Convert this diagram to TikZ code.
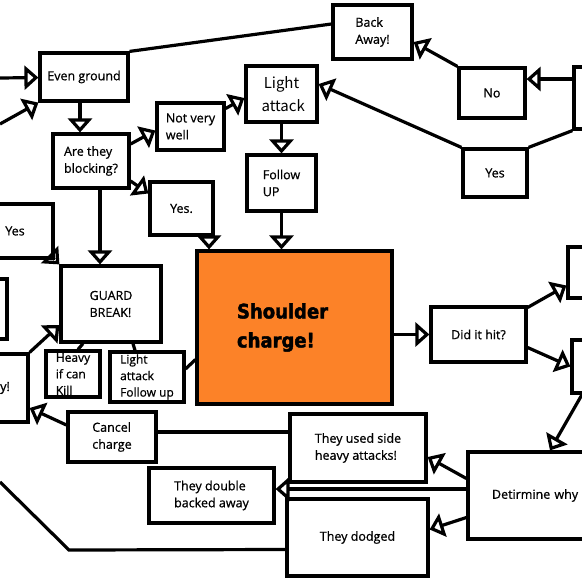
\documentclass[tikz,border=0pt]{standalone}
\usepackage{fontspec}
\setmainfont{Open Sans}[FakeBold=0.8]
\newfontfamily\gulimfont{Noto Sans CJK KR}
\newfontfamily\impactfont{DejaVu Sans Condensed Bold}[FakeBold=2]
\usetikzlibrary{arrows.meta}
\definecolor{chargeorange}{RGB}{252,130,40}
\begin{document}
\begin{tikzpicture}[x=1pt,y=-1pt,
    box/.style={draw, line width=3.2pt, align=left, inner sep=2pt,
      font=\fontsize{12.5}{17}\selectfont},
    arr/.style={line width=3.2pt, -{Triangle[open,length=14pt,width=24pt]}},
    link/.style={line width=3.2pt}]
        \useasboundingbox (0,0) rectangle (582,582);

        % boxes, top part
        \node [box, minimum width=88pt, minimum height=48pt] (even) at (84,77) {Even ground};
        \node [box, minimum width=76pt, minimum height=54pt] (block) at (91,161) {Are they\\blocking?};
        \node [box, minimum width=67pt, minimum height=47pt] (notwell) at (190.5,126.5) {Not very\\ well};
        \node [box, minimum width=71pt, minimum height=56pt, align=center,
               font=\gulimfont\fontsize{15}{23}\selectfont] (light) at (281.5,94) {Light\\ \ attack};
        \node [box, minimum width=69pt, minimum height=56pt] (follow) at (281.5,183) {Follow\\UP};
        \node [box, minimum width=79pt, minimum height=54pt] (back) at (372.5,32) {Back\\Away!};
        \node [box, minimum width=66pt, minimum height=50pt] (no) at (492,93) {No};
        \node [box, minimum width=64pt, minimum height=48pt] (yesr) at (495,173) {Yes};
        \node [box, minimum width=46pt, minimum height=62pt] (redge) at (597,98) {};

        % boxes, middle part
        \node [box, minimum width=63pt, minimum height=53pt] (yesdot) at (181.5,208.5) {Yes.};
        \node [box, minimum width=76pt, minimum height=54pt] (yesl) at (15,231) {Yes};
        \node [box, minimum width=100pt, minimum height=76pt] (guard) at (111,304) {GUARD\\BREAK!};
        \node [box, minimum width=54pt, minimum height=46pt, inner sep=1pt,
               font=\fontsize{12}{16.5}\selectfont] (heavy) at (73,374) {Heavy\\if can\\Kill};
        \node [box, minimum width=74pt, minimum height=50pt, inner sep=1pt,
               font=\fontsize{12}{16.5}\selectfont] (lfu) at (147,377) {Light\\attack\\Follow up};
        \node [box, fill=chargeorange, minimum width=195pt, minimum height=153pt, text width=115pt,
               font=\impactfont\fontsize{20}{29}\selectfont] (charge) at (294.5,327.5) {Shoulder\\charge!};
        \node [box, minimum width=46pt, minimum height=68pt] (awayl) at (5,388) {y!};
        \node [box, minimum width=67pt, minimum height=60pt] (ledge) at (-26.5,309) {};
        \node [box, minimum width=95pt, minimum height=55pt] (hit) at (478.5,334.5) {Did it hit?};
        \node [box, minimum width=52pt, minimum height=51pt] (rup) at (594,272.5) {};
        \node [box, minimum width=48pt, minimum height=53pt] (rlow) at (596,366.5) {};

        % boxes, bottom part
        \node [box, minimum width=88pt, minimum height=50pt] (cancel) at (112,437) {Cancel\\charge};
        \node [box, minimum width=125pt, minimum height=55pt] (dbl) at (211.5,495.5) {They double\\backed away};
        \node [box, minimum width=136pt, minimum height=68pt] (side) at (358,448) {They used side\\heavy attacks!};
        \node [box, minimum width=141pt, minimum height=77pt] (dodged) at (357.5,537.5) {They dodged};
        \node [box, minimum width=152pt, minimum height=87pt, text width=104pt] (why) at (544,495.5) {Detirmine why};

        \coordinate (offa) at (0,78);
        \coordinate (offb) at (0,124);
        \coordinate (offc) at (0,482);
        \coordinate (bend) at (69,550);

        % connectors
        \draw [arr] (offa) -- (even);
        \draw [arr] (offb) -- (even.south west);
        \draw [link] (even.north east) -- ([yshift=8pt]back.west);
        \draw [arr] ([xshift=-4pt]even.south) -- ([xshift=-11pt]block.north);
        \draw [arr] ([yshift=17pt]block.east) -- ([yshift=-4pt]notwell.west);
        \draw [arr] ([yshift=18pt]notwell.east) -- ([yshift=-4pt]light.west);
        \draw [arr] ([yshift=-20pt]block.east) -- ([yshift=15pt]yesdot.west);
        \draw [arr] ([xshift=9pt]block.south) -- ([xshift=-11pt]guard.north);
        \draw [arr] (yesl.south east) -- (guard.north west);
        \draw [arr] ([xshift=27.5pt]yesdot.south) -- ([xshift=-85.5pt]charge.north);
        \draw [arr] (light.south) -- (follow.north);
        \draw [arr] (follow.south) -- (follow.south |- charge.north);
        \draw [arr] (yesr.north west) -- ([yshift=10pt]light.east);
        \draw [arr] (no.north west) -- ([yshift=-10pt]back.east);
        \draw [arr] ([yshift=19pt]redge.west) -- ([yshift=14pt]no.east);
        \draw [link] (redge.south west) -- (yesr.north east);

        \draw [arr] ([yshift=-7pt]charge.east) -- (hit.west);
        \draw [arr] ([yshift=27pt]hit.east) -- ([yshift=-13pt]rup.west);
        \draw [arr] ([yshift=-13pt]hit.east) -- (rlow.west);
        \draw [arr] ([xshift=-14pt]rlow.south) -- ([xshift=6pt]why.north);
        \draw [arr] ([yshift=17pt]why.west) -- ([yshift=-9pt]side.east);
        \draw [arr] ([yshift=6.5pt]why.west) -- ([yshift=6.5pt]dbl.east);
        \draw [arr] ([yshift=-22pt]why.west) -- ([yshift=8pt]dodged.east);
        \draw [link] ([yshift=16pt]side.west) -- ([yshift=5pt]cancel.east);
        \draw [arr] ([yshift=12pt]cancel.west) -- ([yshift=-20pt]awayl.east);
        \draw [arr] (awayl.north east) -- ([yshift=-21pt]guard.west);
        \draw [link] ([xshift=-28pt]guard.south) -- ([xshift=5pt]heavy.north);
        \draw [link] ([xshift=22pt]guard.south) -- ([xshift=-12pt]lfu.north);
        \draw [link] ([yshift=8pt]lfu.east) -- ([yshift=-32pt]charge.west);
        \draw [link] ([yshift=-12pt]dodged.west) -- (bend) -- (offc);
      \end{tikzpicture}
\end{document}
